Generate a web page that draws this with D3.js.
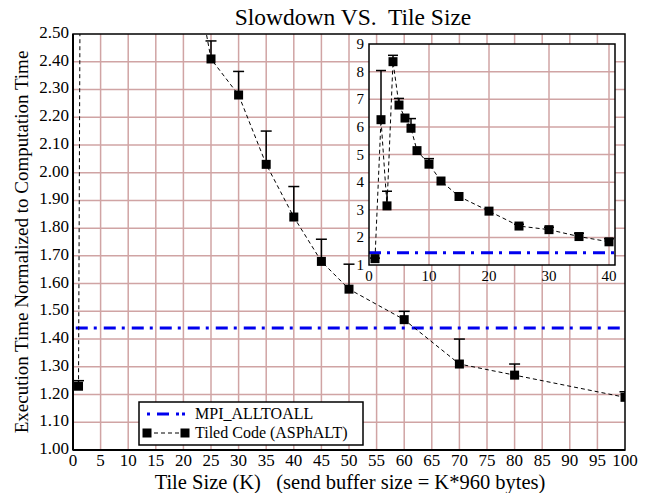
<!DOCTYPE html>
<html>
<head>
<meta charset="utf-8">
<script src="https://cdn.jsdelivr.net/npm/d3@7"></script>
<style>
  body { margin: 0; background: #fff; }
</style>
</head>
<body>
<main></main>
<script>
// datos
const tileSizes = [1, 2, 3, 4, 5, 6, 7, 8, 10, 12, 15, 20, 25, 30, 35, 40, 45, 50, 60, 70, 80, 100];
const slowdown  = [1.23, 6.26, 3.14, 8.36, 6.79, 6.32, 5.95, 5.14, 4.65, 4.04, 3.48, 2.95, 2.41, 2.28, 2.03, 1.84, 1.68, 1.58, 1.47, 1.31, 1.27, 1.19];
const errorTop  = [1.25, 8.04, 3.67, 8.59, 7.03, 6.32, 6.30, 5.14, 4.85, 4.04, 3.48, 2.95, 2.475, 2.365, 2.15, 1.95, 1.76, 1.67, 1.50, 1.40, 1.31, 1.21];
const mpiAlltoall = 1.44;

const xTicks = d3.range(0, 101, 5);
const yTicks = d3.range(1.0, 2.501, 0.1);
const insetXTicks = [0, 10, 20, 30, 40];
const insetYTicks = [1, 2, 3, 4, 5, 6, 7, 8, 9];

const seriesNames = ['MPI_ALLTOALL', 'Tiled Code (ASPhALT)'];

const w = 645, h = 493;
const fuente = 'Liberation Serif';

const datos = tileSizes.map((t, i) => ({ x: t, y: slowdown[i], e: errorTop[i] }));

var svg = d3.select('main')
    .append('svg')
    .attr('width', w)
    .attr('height', h);

const gridColor = '#d0a4a4';
const blueDash = '12,6,3,7';

// pone la fuente serif en cada texto
function serif(sel, size) {
    sel.attr('font-family', fuente)
        .style('font-family', "'Liberation Serif', 'DejaVu Serif', serif")
        .attr('font-size', size)
        .style('white-space', 'pre')
        .attr('fill', '#000');
    return sel;
}

// Escalas principales
const x = d3.scaleLinear().domain([0, 100]).range([73, 625]);
const y = d3.scaleLinear().domain([1, 2.5]).range([450, 34]);

svg.append('clipPath').attr('id', 'clipMain')
    .append('rect')
    .attr('x', x(0)).attr('y', y(2.5))
    .attr('width', x(100) - x(0)).attr('height', y(1) - y(2.5));

// grid
svg.append('g').selectAll('line')
    .data(xTicks.slice(1, -1))
    .enter().append('line')
    .attr('x1', d => x(d)).attr('x2', d => x(d))
    .attr('y1', y(1)).attr('y2', y(2.5))
    .attr('stroke', gridColor).attr('stroke-width', 1.5);

svg.append('g').selectAll('line')
    .data(yTicks.slice(1, -1))
    .enter().append('line')
    .attr('y1', d => y(d)).attr('y2', d => y(d))
    .attr('x1', x(0)).attr('x2', x(100))
    .attr('stroke', gridColor).attr('stroke-width', 1.5);

// curvas principales
const plot = svg.append('g').attr('clip-path', 'url(#clipMain)');

plot.append('line')
    .attr('x1', x(0.5)).attr('x2', x(100))
    .attr('y1', y(mpiAlltoall)).attr('y2', y(mpiAlltoall))
    .attr('stroke', '#0000ee').attr('stroke-width', 3)
    .attr('stroke-dasharray', blueDash);

function drawSeries(g, xs, ys, size, cap) {
    const linea = d3.line().x(d => xs(d.x)).y(d => ys(d.y));
    g.append('path')
        .datum(datos.filter(d => d.x <= xs.domain()[1]))
        .attr('d', linea)
        .attr('fill', 'none')
        .attr('stroke', '#000')
        .attr('stroke-width', 1)
        .attr('stroke-dasharray', '4,3');

    const barras = g.append('g').selectAll('g')
        .data(datos.filter(d => d.x <= xs.domain()[1] && d.e > d.y))
        .enter().append('g');
    barras.append('line')
        .attr('x1', d => xs(d.x)).attr('x2', d => xs(d.x))
        .attr('y1', d => ys(d.y)).attr('y2', d => ys(d.e))
        .attr('stroke', '#000').attr('stroke-width', 1.5);
    barras.append('line')
        .attr('x1', d => xs(d.x) - cap / 2).attr('x2', d => xs(d.x) + cap / 2)
        .attr('y1', d => ys(d.e)).attr('y2', d => ys(d.e))
        .attr('stroke', '#000').attr('stroke-width', 1.5);

    g.append('g').selectAll('rect')
        .data(datos.filter(d => d.x <= xs.domain()[1]))
        .enter().append('rect')
        .attr('x', d => xs(d.x) - size / 2)
        .attr('y', d => ys(d.y) - size / 2)
        .attr('width', size).attr('height', size)
        .attr('fill', '#000');
}

drawSeries(plot, x, y, 9, 11);

// marco principal
svg.append('rect')
    .attr('x', x(0)).attr('y', y(2.5))
    .attr('width', x(100) - x(0)).attr('height', y(1) - y(2.5))
    .attr('fill', 'none').attr('stroke', '#000').attr('stroke-width', 1.5);
svg.append('line')
    .attr('x1', x(0)).attr('x2', x(0)).attr('y1', y(2.5)).attr('y2', y(1))
    .attr('stroke', '#000').attr('stroke-width', 2);
svg.append('line')
    .attr('x1', x(0)).attr('x2', x(100)).attr('y1', y(1)).attr('y2', y(1))
    .attr('stroke', '#000').attr('stroke-width', 2);

// etiquetas de ejes
svg.append('g').selectAll('text')
    .data(xTicks)
    .enter().append('text')
    .call(serif, 17)
    .attr('x', d => x(d)).attr('y', 466)
    .attr('text-anchor', 'middle')
    .text(d => d);

svg.append('g').selectAll('text')
    .data(yTicks)
    .enter().append('text')
    .call(serif, 17)
    .attr('x', 69).attr('y', d => y(d) + 4)
    .attr('text-anchor', 'end')
    .text(d => d3.format('.2f')(d));

svg.append('text')
    .call(serif, 20.5)
    .attr('x', 350).attr('y', 489)
    .attr('text-anchor', 'middle')
    .text('Tile Size (K)   (send buffer size = K*960 bytes)');

svg.append('text')
    .call(serif, 19)
    .attr('transform', 'translate(28,242) rotate(-90)')
    .attr('text-anchor', 'middle')
    .text('Execution Time Normalized to Computation Time');

svg.append('text')
    .call(serif, 23.5)
    .attr('x', 353).attr('y', 25)
    .attr('text-anchor', 'middle')
    .text('Slowdown VS.  Tile Size');

// Inset
const xi = d3.scaleLinear().domain([0, 41]).range([369, 615]);
const yi = d3.scaleLinear().domain([1, 9]).range([265, 44]);

svg.append('rect')
    .attr('x', xi(0)).attr('y', yi(9))
    .attr('width', xi(41) - xi(0)).attr('height', yi(1) - yi(9))
    .attr('fill', '#fff');

svg.append('clipPath').attr('id', 'clipInset')
    .append('rect')
    .attr('x', xi(0)).attr('y', yi(9))
    .attr('width', xi(41) - xi(0)).attr('height', yi(1) - yi(9));

svg.append('g').selectAll('line')
    .data(insetXTicks.slice(1))
    .enter().append('line')
    .attr('x1', d => xi(d)).attr('x2', d => xi(d))
    .attr('y1', yi(1)).attr('y2', yi(9))
    .attr('stroke', gridColor).attr('stroke-width', 1.5);

svg.append('g').selectAll('line')
    .data(insetYTicks.slice(1, -1))
    .enter().append('line')
    .attr('y1', d => yi(d)).attr('y2', d => yi(d))
    .attr('x1', xi(0)).attr('x2', xi(41))
    .attr('stroke', gridColor).attr('stroke-width', 1.5);

const inset = svg.append('g').attr('clip-path', 'url(#clipInset)');

inset.append('line')
    .attr('x1', xi(0)).attr('x2', xi(41))
    .attr('y1', yi(mpiAlltoall)).attr('y2', yi(mpiAlltoall))
    .attr('stroke', '#0000ee').attr('stroke-width', 3)
    .attr('stroke-dasharray', blueDash);

drawSeries(svg.append('g'), xi, yi, 9, 10);

svg.append('rect')
    .attr('x', xi(0)).attr('y', yi(9))
    .attr('width', xi(41) - xi(0)).attr('height', yi(1) - yi(9))
    .attr('fill', 'none').attr('stroke', '#000').attr('stroke-width', 1.5);

svg.append('g').selectAll('text')
    .data(insetXTicks)
    .enter().append('text')
    .call(serif, 15)
    .attr('x', d => xi(d)).attr('y', 281)
    .attr('text-anchor', 'middle')
    .text(d => d);

svg.append('g').selectAll('text')
    .data(insetYTicks)
    .enter().append('text')
    .call(serif, 15)
    .attr('x', 364).attr('y', d => yi(d) + 5)
    .attr('text-anchor', 'end')
    .text(d => d);

// leyenda
const leyenda = svg.append('g').attr('transform', 'translate(139,402)');
leyenda.append('rect')
    .attr('width', 224).attr('height', 43)
    .attr('fill', '#fff').attr('stroke', '#000').attr('stroke-width', 1.5);

leyenda.append('line')
    .attr('x1', 8).attr('x2', 46).attr('y1', 12).attr('y2', 12)
    .attr('stroke', '#0000ee').attr('stroke-width', 3)
    .attr('stroke-dasharray', '3,7,12,7,3');

leyenda.append('line')
    .attr('x1', 8).attr('x2', 46).attr('y1', 31).attr('y2', 31)
    .attr('stroke', '#000').attr('stroke-width', 1)
    .attr('stroke-dasharray', '4,3');
leyenda.selectAll('rect.m')
    .data([8, 46])
    .enter().append('rect')
    .attr('class', 'm')
    .attr('x', d => d - 4.5).attr('y', 31 - 4.5)
    .attr('width', 9).attr('height', 9)
    .attr('fill', '#000');

leyenda.selectAll('text')
    .data(seriesNames)
    .enter().append('text')
    .call(serif, 16)
    .attr('x', 56).attr('y', (d, i) => 17 + i * 19)
    .text(d => d);
</script>
</body>
</html>
